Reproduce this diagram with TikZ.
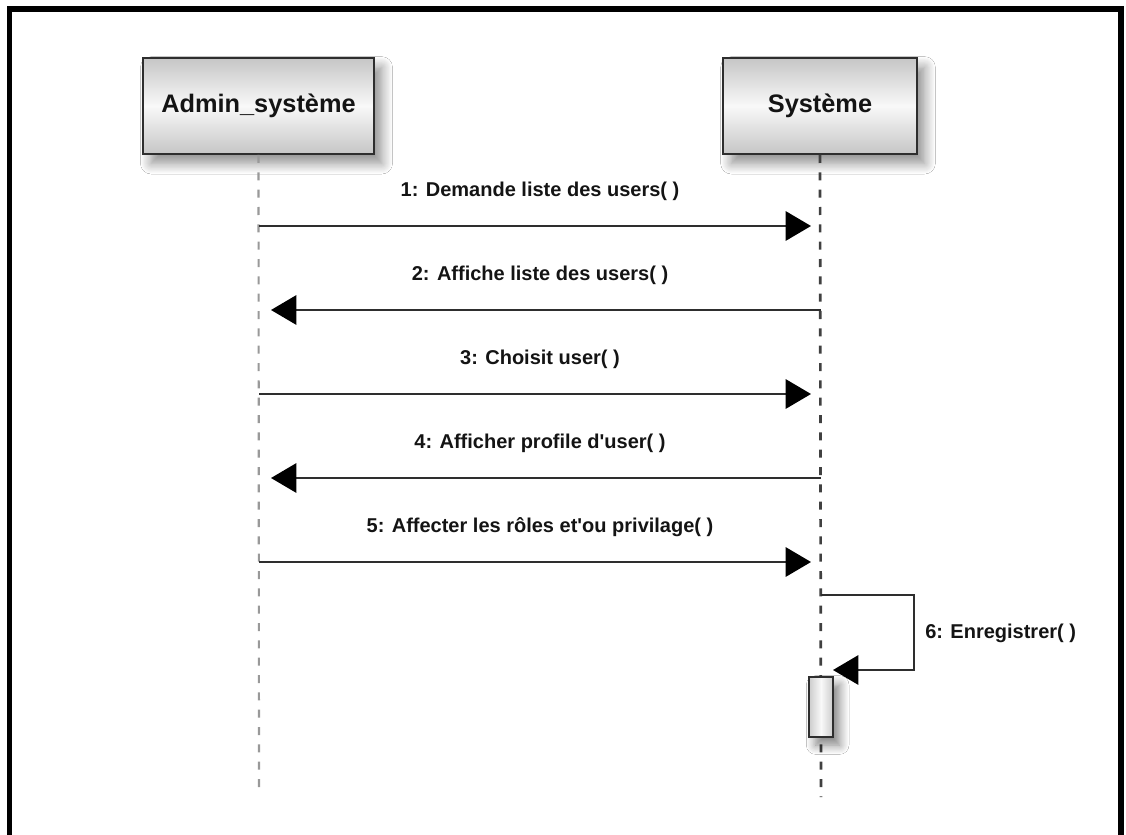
\documentclass[tikz,border=0pt]{standalone}
\usepackage{fontspec}
\setmainfont{Liberation Sans}
\usetikzlibrary{arrows.meta,shadows.blur}

\definecolor{ink}{HTML}{141414}
\definecolor{edge}{HTML}{2E2E2E}

\tikzset{
  lifebox/.style={draw=edge, line width=1.5pt, minimum height=72pt,
    top color=gray!45, bottom color=gray!45, middle color=gray!5,
    blur shadow={shadow xshift=6pt, shadow yshift=-7pt, shadow blur steps=12, shadow blur radius=8pt, shadow opacity=45},
    font=\fontsize{19}{22}\selectfont\bfseries, text=ink},
  actbox/.style={draw=edge, line width=1.2pt, minimum width=18pt, minimum height=45pt, inner sep=0pt,
    left color=gray!40, right color=gray!40, middle color=gray!5,
    blur shadow={shadow xshift=5pt, shadow yshift=-6pt, shadow blur steps=10, shadow blur radius=7pt, shadow opacity=50}},
  lifeline/.style={line width=2pt, dash pattern=on 6pt off 7pt},
  msg/.style={draw=edge, line width=1.5pt, -{Triangle[length=19pt,width=22pt,color=black]}},
  msglabel/.style={font=\fontsize{15}{18}\selectfont\bfseries, text=ink, inner sep=0pt},
}

\begin{document}
\begin{tikzpicture}[x=0.75pt, y=-0.75pt]
  \useasboundingbox (0,0) rectangle (1126,834);
  \fill[white] (0,0) rectangle (1126,834);

  % outer frame (open at the bottom)
  \draw[line width=3.8pt, black] (9.5,840) -- (9.5,9) -- (1121,9) -- (1121,840);

  % lifeline heads
  \node[lifebox, minimum width=173pt] (admin) at (258.5,106) {Admin\_système};
  \node[lifebox, minimum width=145pt] (sys) at (820,106) {Système};

  % lifeline ends and message anchors
  \coordinate (adminEnd) at (259,790);
  \coordinate (sysEnd) at (821,797);
  \draw[lifeline, gray!80, line width=1.6pt] (admin.south) -- (adminEnd);
  \draw[lifeline, black!75] (sys.south) -- (sysEnd);

  \foreach \i/\y in {1/226, 2/310, 3/394, 4/478, 5/562} {
    \coordinate (a\i) at (259,\y);
    \coordinate (s\i) at (821,\y);
  }

  % messages
  \draw[msg, shorten >=7.5pt] (a1) -- node[msglabel, above=18pt, pos=0.5] (m1) {1: Demande liste des users( )} (s1);
  \draw[msg, shorten >=9pt] (s2) -- node[msglabel, above=18pt, pos=0.5] (m2) {2: Affiche liste des users( )} (a2);
  \draw[msg, shorten >=7.5pt] (a3) -- node[msglabel, above=18pt, pos=0.5] (m3) {3: Choisit user( )} (s3);
  \draw[msg, shorten >=9pt] (s4) -- node[msglabel, above=18pt, pos=0.5] (m4) {4: Afficher profile d\textquotesingle user( )} (a4);
  \draw[msg, shorten >=7.5pt] (a5) -- node[msglabel, above=18pt, pos=0.5] (m5) {5: Affecter les rôles et\textquotesingle ou privilage( )} (s5);

  % activation bar and self call
  \node[actbox] (act) at (821,707) {};
  \coordinate (s6) at (821,595);
  \coordinate (turn) at (914,595);
  \coordinate (back) at (833,670);
  \draw[msg] (s6) -- (turn) |- (back);
  \node[msglabel, anchor=west] (m6) at (925,633) {6: Enregistrer( )};
\end{tikzpicture}
\end{document}
